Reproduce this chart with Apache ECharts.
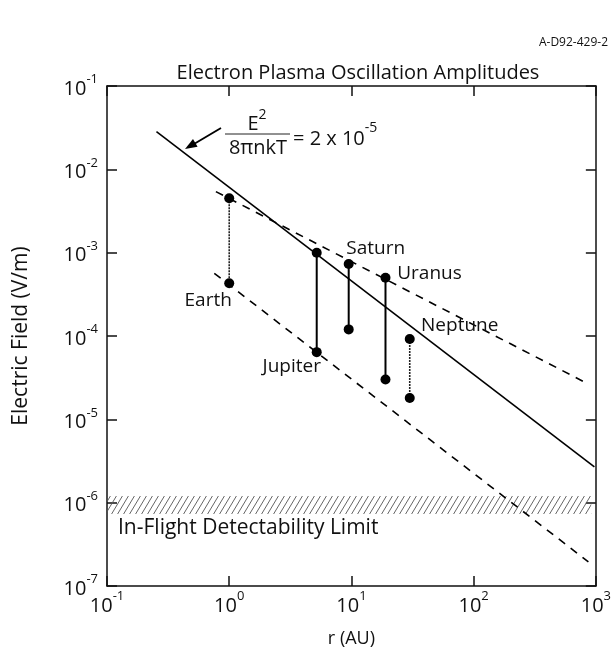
<!DOCTYPE html>
<html>
<head>
<meta charset="utf-8">
<script src="https://cdn.jsdelivr.net/npm/echarts@6/dist/echarts.min.js"></script>
<style>
html,body{margin:0;padding:0;background:#fff;}
#chart{width:614px;height:656px;}
</style>
</head>
<body>
<div id="chart"></div>
<script>
// ---- data ----
const xTicks = [0.1, 1, 10, 100, 1000];
const yTicks = [1e-7, 1e-6, 1e-5, 1e-4, 1e-3, 1e-2, 1e-1];
const planets = ['Earth', 'Jupiter', 'Saturn', 'Uranus', 'Neptune'];
const planetDist = [1, 5.2, 9.5, 19, 30];
const planetEMax = [4.5e-3, 1.0e-3, 7.3e-4, 5.0e-4, 9.2e-5];
const planetEMin = [4.3e-4, 6.4e-5, 1.2e-4, 3.0e-5, 1.8e-5];
const solidLine = [[0.254, 2.83e-2], [973, 2.68e-6]];
const upperDashed = [[0.778, 5.4e-3], [836, 2.73e-5]];
const lowerDashed = [[0.755, 5.65e-4], [869, 1.95e-7]];
const limitBand = { x0: 0.1, x1: 918, yTop: 1.2e-6, yBottom: 7.3e-7 };

const FONT = 'Open Sans';

// hatch pattern
const pat = document.createElement('canvas');
pat.width = 6; pat.height = 10;
(function(){
  const c = pat.getContext('2d');
  c.strokeStyle = '#555';
  c.lineWidth = 0.9;
  for (const ox of [-6, 0, 6]) {
    c.beginPath(); c.moveTo(ox, 10); c.lineTo(ox + 6, 0); c.stroke();
  }
})();

function powLabel(v) {
  const e = Math.round(Math.log10(v));
  return '{b|10}{s|' + e + '}';
}
const labelRich = {
  b: { fontSize: 20, fontFamily: FONT, color: '#111', lineHeight: 26, verticalAlign: 'bottom' },
  s: { fontSize: 13, fontFamily: FONT, color: '#111', lineHeight: 26, verticalAlign: 'top' }
};

const axisCommon = {
  type: 'log', logBase: 10,
  axisLine: { show: true, lineStyle: { color: '#111', width: 1.5 } },
  axisTick: { show: true, inside: true, length: 10, lineStyle: { color: '#111', width: 1.5 } },
  splitLine: { show: false },
  minorTick: { show: false }
};

const planetLabelOffsets = {
  Earth: { idx: 1, off: [-21, 17] },
  Jupiter: { idx: 1, off: [-25, 14] },
  Saturn: { idx: 0, off: [27, -15] },
  Uranus: { idx: 0, off: [44, -4] },
  Neptune: { idx: 0, off: [50, -13] }
};
const thinPlanets = { Earth: true, Neptune: true };

const planetSeries = planets.map((name, i) => {
  const lo = planetLabelOffsets[name];
  const pts = [[planetDist[i], planetEMax[i]], [planetDist[i], planetEMin[i]]];
  return {
    type: 'line', name: name,
    data: pts.map((p, k) => ({
      value: p,
      label: k === lo.idx ? {
        show: true, position: 'inside', offset: lo.off, formatter: name,
        fontSize: 19, fontFamily: FONT, color: '#111'
      } : { show: false }
    })),
    symbol: 'circle', symbolSize: 10,
    itemStyle: { color: '#000' },
    lineStyle: thinPlanets[name] ? { color: '#222', width: 1.6, type: [2, 1] } : { color: '#000', width: 2 },
    z: 5, silent: true
  };
});

const chart = echarts.init(document.getElementById('chart'), null, { renderer: 'canvas' });
chart.setOption({
  animation: false,
  backgroundColor: '#fff',
  title: {
    text: 'Electron Plasma Oscillation Amplitudes',
    left: 353, top: 58, textAlign: 'center',
    textStyle: { fontSize: 20, fontWeight: 'normal', fontFamily: FONT, color: '#111' }
  },
  grid: { left: 107, right: 16, top: 86, bottom: 70, containLabel: false },
  xAxis: [
    Object.assign({}, axisCommon, {
      min: 0.1, max: 1000, interval: 1, position: 'bottom',
      name: 'r (AU)', nameLocation: 'middle', nameGap: 44,
      nameTextStyle: { fontSize: 18, fontFamily: FONT, color: '#111' },
      axisLabel: { formatter: powLabel, rich: labelRich, margin: 4 }
    }),
    Object.assign({}, axisCommon, {
      min: 0.1, max: 1000, interval: 1, position: 'top',
      axisLabel: { show: false }
    })
  ],
  yAxis: [
    Object.assign({}, axisCommon, {
      min: 1e-7, max: 1e-1, interval: 1, position: 'left',
      name: 'Electric Field (V/m)', nameLocation: 'middle', nameGap: 75, nameRotate: 90,
      nameTextStyle: { fontSize: 21, fontFamily: FONT, color: '#111' },
      axisLabel: { formatter: powLabel, rich: labelRich, margin: 9 }
    }),
    Object.assign({}, axisCommon, {
      min: 1e-7, max: 1e-1, interval: 1, position: 'right',
      axisLabel: { show: false }
    })
  ],
  series: [
    {
      type: 'line', name: 'solid', data: solidLine, symbol: 'none',
      lineStyle: { color: '#000', width: 1.6 }, z: 3, silent: true,
      markArea: {
        silent: true,
        itemStyle: { color: { image: pat, repeat: 'repeat' } },
        data: [[{ coord: [limitBand.x0, limitBand.yTop] }, { coord: [limitBand.x1, limitBand.yBottom] }]]
      }
    },
    {
      type: 'line', name: 'upper', data: upperDashed, symbol: 'none',
      lineStyle: { color: '#000', width: 1.6, type: [8, 7] }, z: 3, silent: true
    },
    {
      type: 'line', name: 'lower', data: lowerDashed, symbol: 'none',
      lineStyle: { color: '#000', width: 1.6, type: [8, 7] }, z: 3, silent: true
    }
  ].concat(planetSeries),
  graphic: [
    { type: 'text', right: 6, top: 37, style: { text: 'A-D92-429-2', fontSize: 12, fontFamily: FONT, fill: '#111' } },
    { type: 'text', left: 118, top: 518, style: { text: 'In-Flight Detectability Limit', fontSize: 21, fontFamily: FONT, fill: '#111' } },
    // formula
    { type: 'text', x: 257, y: 121, style: {
        text: '{b|E}{s|2}', align: 'center', verticalAlign: 'middle',
        rich: { b: { fontSize: 20, fontFamily: FONT, fill: '#111', lineHeight: 26, verticalAlign: 'bottom' },
                s: { fontSize: 14, fontFamily: FONT, fill: '#111', lineHeight: 26, verticalAlign: 'top' } } } },
    { type: 'line', shape: { x1: 225, y1: 134, x2: 290, y2: 134 }, style: { stroke: '#222', lineWidth: 1 } },
    { type: 'text', x: 258, y: 148, style: { text: '8\u03c0nkT', align: 'center', verticalAlign: 'middle', fontSize: 20, fontFamily: FONT, fill: '#111' } },
    { type: 'text', x: 293, y: 135, style: {
        text: '{b|= 2 x 10}{s|-5}', align: 'left', verticalAlign: 'middle',
        rich: { b: { fontSize: 20, fontFamily: FONT, fill: '#111', lineHeight: 28, verticalAlign: 'bottom' },
                s: { fontSize: 14, fontFamily: FONT, fill: '#111', lineHeight: 28, verticalAlign: 'top' } } } },
    // arrow
    { type: 'line', shape: { x1: 221, y1: 128, x2: 194, y2: 144 }, style: { stroke: '#000', lineWidth: 1.8 } },
    { type: 'polygon', shape: { points: [[185, 149], [197.6, 146.7], [193, 138.9]] }, style: { fill: '#000' } }
  ]
});
</script>
</body>
</html>
